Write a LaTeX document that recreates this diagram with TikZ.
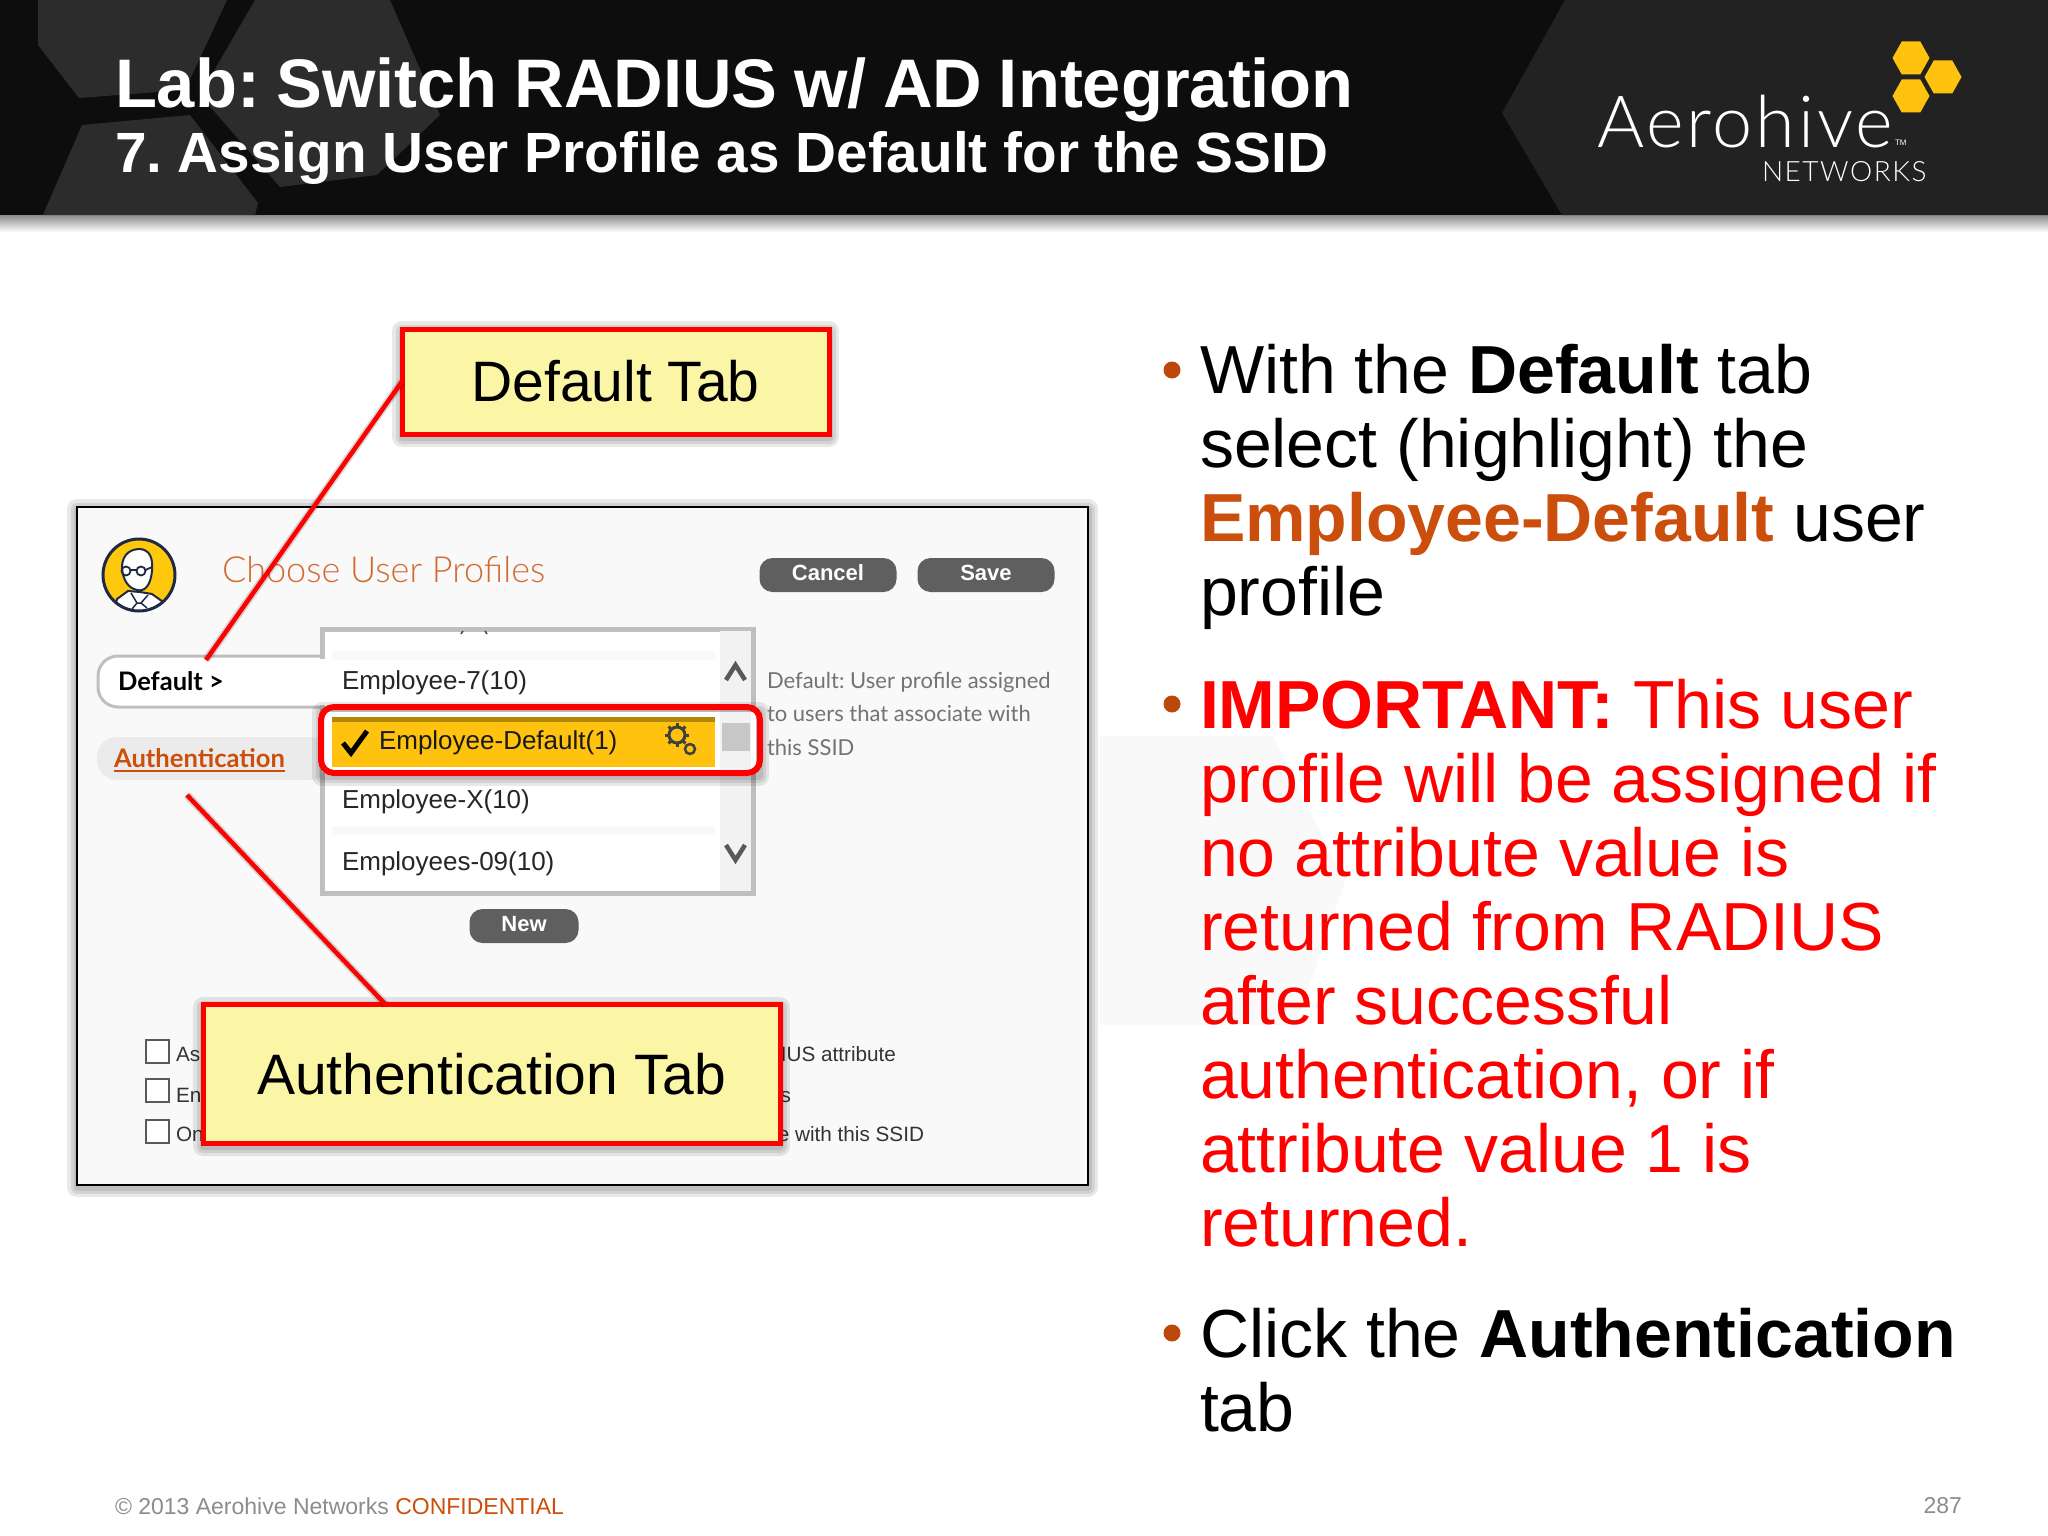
\documentclass[tikz,border=0pt]{standalone}
\usepackage{fontspec}
\setmainfont{Liberation Sans}
\newfontfamily\uifont{Lato}
\newfontfamily\logofont[LetterSpace=4]{Lato Light}
\newfontfamily\uilight{Lato Light}
\newfontfamily\logospaced[LetterSpace=5.5]{Lato Light}
\newcommand{\fs}[2]{\fontsize{#1}{#2}\selectfont}
\newcommand{\tight}{\spaceskip=.24em\relax}
\definecolor{hdark}{HTML}{0D0D0D}
\definecolor{hlight}{HTML}{222222}
\definecolor{hghost}{HTML}{2C2C2C}
\definecolor{honey}{HTML}{FFC20E}
\definecolor{rust}{HTML}{CC4E0C}
\definecolor{panelbg}{HTML}{F9F9F9}
\definecolor{note}{HTML}{FBF6A6}
\definecolor{btn}{HTML}{5F5F5F}
\definecolor{navy}{HTML}{1F2A44}
\tikzset{
  x=1pt,y=-1pt,
  every node/.style={inner sep=0pt,outer sep=0pt},
  txt/.style={anchor=base west},
  callout/.style={draw=red,line width=5pt,fill=note,text=black},
  leader/.style={draw=red,line width=4.5pt},
  pill/.style={draw=none,fill=btn,rounded corners=13pt,text=white,text height=16pt,text depth=6pt,font=\bfseries\fs{22}{24}},
  row/.style={txt,text=black!85,font=\fs{26}{28}},
  desc/.style={txt,text=black!55,font=\uifont\fs{22}{24}},
  chk/.style={draw=black!65,line width=1.5pt,fill=white},
  under/.style={txt,text=black!80,font=\fs{20.7}{24}},
  body/.style={anchor=north west,align=left,font=\fs{68}{74}},
  bul/.style={circle,fill=rust!92!black,minimum size=17pt},
  hex/.style={fill=honey}
}
\newcommand{\softrect}[4]{%
  \foreach \w in {20,13,7}{\draw[black,opacity=.09,line width=\w pt,line join=round] (#1,#2) rectangle (#3,#4);}}
\newcommand{\hexa}[2]{\fill[hex] (#1+18.5,#2)--(#1+9.25,#2+16.5)--(#1-9.25,#2+16.5)--(#1-18.5,#2)--(#1-9.25,#2-16.5)--(#1+9.25,#2-16.5)--cycle;}
\begin{document}
\begin{tikzpicture}
\frenchspacing
\useasboundingbox (0,0) rectangle (2048,1536);
\fill[white] (0,0) rectangle (2048,1536);
% header
\shade[top color=black!45,bottom color=white] (0,215) rectangle (2048,232);
\fill[hdark] (0,0) rectangle (2048,215);
\fill[hlight] (1565,0)--(1502,113)--(1562,215)--(2048,215)--(2048,0)--cycle;
\fill[hghost] (38,0)--(38,45)--(79,98)--(185,90)--(227,0)--cycle;
\fill[hghost] (255,0)--(390,0)--(440,115)--(377,175)--(280,187)--(200,95)--cycle;
\fill[hghost] (82,125)--(190,115)--(258,203)--(255,215)--(43,215)--cycle;
% titles
\node[txt,text=white,font=\bfseries\fs{68.7}{70}\tight] (t1) at (115,108) {Lab: Switch RADIUS w/ AD Integration};
\node[txt,text=white,font=\bfseries\fs{56.7}{60}] (t2) at (115,172) {7. Assign User Profile as Default for the SSID};
% logo
\hexa{1911}{58}\hexa{1943}{77}\hexa{1911}{96}
\node[txt,text=white,font=\logofont\fs{72}{72}] (l1) at (1597,147) {Aerohive};
\node[txt,text=white,font=\fs{8}{8}] (l2) at (1895,146) {TM};
\node[txt,text=white,font=\logospaced\fs{28}{28}] (l3) at (1762,181) {NETWORKS};
% panel
\fill[black!2.5] (1100,736)--(1273,736)--(1345,883)--(1295,1025)--(1100,1025)--cycle;
\softrect{77}{509}{1088}{1187}
\draw[black,line width=2pt,fill=panelbg] (77,507) rectangle (1088,1185);
% avatar
\fill[honey!90!yellow] (139,575) circle (36);
\begin{scope}
\clip (139,575) circle (36);
\fill[white,draw=navy,line width=2pt] (112,620)--(117,599)--(128,591)--(140,592)--(152,594)--(166,604)--(170,620)--cycle;
\fill[white,draw=navy,line width=2pt] (122,568) .. controls (122,552) and (133,549) .. (140,549) .. controls (150,550) and (153,558) .. (152,570) .. controls (151,585) and (145,592) .. (137,590) .. controls (128,588) and (123,580) .. (122,568) -- cycle;
\draw[navy,line width=1.8pt] (126,571) circle (4.5) (141,571) circle (4.5) (130.5,570)--(136.5,570) (145.5,570)--(152,567);
\draw[navy,line width=1.5pt] (131,593)--(137,603)--(132,609) (148,595)--(141,603)--(147,608) (137,603)--(141,603);
\end{scope}
\draw[navy,line width=3pt] (139,575) circle (36);
\node[txt,text=rust!85,font=\uilight\fs{36}{38}] (title) at (222,582) {Choose User Profiles};
\node[pill,minimum width=137pt,minimum height=34pt] (cancel) at (828,575) {Cancel};
\node[pill,minimum width=137pt,minimum height=34pt] (save) at (986,575) {Save};
% tabs
\draw[black!25,line width=3pt,fill=white,rounded corners=20pt] (340,656)--(98,656)--(98,707)--(340,707);
\node[txt,font=\uifont\bfseries\fs{25.5}{26}] (deftab) at (118,690) {Default >};
\fill[black!8,rounded corners=20pt] (330,737)--(97,737)--(97,780)--(330,780)--cycle;
\node[txt,text=rust,font=\uifont\bfseries\fs{25.6}{26}] (authtab) at (114,767) {Authentication};
\draw[rust,line width=1.5pt] (authtab.base west)++(0,4) -- ++(171,0);
% list
\draw[black!25,line width=5pt,fill=white] (322,629) rectangle (753,893);
\fill[white] (319,658.5) rectangle (326,704.5);
\fill[black!5] (720,631) rectangle (751,891);
\fill[panelbg] (332,651) rectangle (715,660);
\fill[panelbg] (332,708) rectangle (715,716);
\fill[panelbg] (332,826) rectangle (715,835);
\draw[black!75,line width=1.5pt] (461,634)--(463,631) (485,631)--(487,634);
\node[row] (r1) at (342,689) {Employee-7(10)};
\node[row] (r3) at (342,808) {Employee-X(10)};
\node[row] (r4) at (342,870) {Employees-09(10)};
\draw[black!65,line width=4.5pt] (726,680)--(735.5,665)--(745,680);
\draw[black!65,line width=4.5pt] (726,845)--(735.5,860)--(745,845);
% highlight
\softrect{322}{712}{759}{776}
\fill[white] (322,712) rectangle (756,772);
\fill[black!5] (720,712) rectangle (751,772);
\fill[honey] (332,717) rectangle (715,767);
\fill[honey!70!black] (332,717) rectangle (715,722);
\fill[black!22] (722,723) rectangle (750,751);
\draw[black,line width=5pt] (343,743)--(351,753)--(367,731);
\node[row,text=black!90] (r2) at (379,749) {Employee-Default(1)};
\draw[black!75,line width=3pt] (677,735) circle (8);
\draw[black!75,line width=2.5pt] (690,749) circle (5);
\foreach \a in {0,45,...,315}{\draw[black!75,line width=3pt] (677,735)++(\a:8)--++(\a:4);}
\draw[red,line width=6pt,rounded corners=13pt] (321,707) rectangle (760,773);
\node[desc] (d1) at (767,688) {Default: User profile assigned};
\node[desc] (d2) at (767,721) {to users that associate with};
\node[desc] (d3) at (767,755) {this SSID};
\node[pill,minimum width=109pt,minimum height=34pt] (new) at (524,926) {New};
% checkboxes
\node[chk,minimum size=23pt,anchor=north west] (c1) at (146,1040) {};
\node[chk,minimum size=23pt,anchor=north west] (c2) at (146,1079) {};
\node[chk,minimum size=23pt,anchor=north west] (c3) at (146,1120) {};
\node[under] (u1) at (176,1061) {As};
\node[under] (u2) at (176,1102) {En};
\node[under] (u3) at (176,1141) {On};
\node[under,anchor=base east] (u4) at (896,1061) {IUS attribute};
\node[under,anchor=base east] (u5) at (791,1102) {s};
\node[under,anchor=base east] (u6) at (924,1141) {e with this SSID};
% callouts
\softrect{402}{331}{829}{437}
\softrect{203}{1007}{780}{1146}
\node[callout,font=\fs{57}{60},minimum width=427pt,minimum height=105pt] (dtab) at (615.5,381.5) {Default Tab};
\node[callout,font=\fs{57}{60},minimum width=577pt,minimum height=139pt] (atab) at (491.5,1074) {Authentication Tab};
\coordinate (dend) at (206,660);
\coordinate (aend) at (187,795);
\draw[black,opacity=.15,line width=8pt] (dtab.west)--(dend);
\draw[black,opacity=.15,line width=8pt] ([xshift=-106pt]atab.north)--(aend);
\draw[leader] (dtab.west)--(dend);
\draw[leader] ([xshift=-106pt]atab.north)--(aend);
% body
\node[bul] (b1) at (1172,370) {};
\node[bul] (b2) at (1172,704) {};
\node[bul] (b3) at (1172,1333) {};
\node[body] (p1) at (1200,344) {With the \textbf{Default} tab\\select (highlight) the\\\textbf{\textcolor{rust}{Employee-Default}} user\\profile};
\node[body,text=red] (p2) at (1200,679) {\textbf{IMPORTANT:} This user\\profile will be assigned if\\no attribute value is\\returned from RADIUS\\after successful\\authentication, or if\\attribute value 1 is\\returned.};
\node[body] (p3) at (1200,1308) {Click the \textbf{Authentication}\\tab};
% footer
\node[txt,text=black!45,font=\fs{23}{26}] (f1) at (115,1514) {© 2013 Aerohive Networks \textcolor{rust}{CONFIDENTIAL}};
\node[txt,anchor=base east,text=black!45,font=\fs{23}{26}] (f2) at (1962,1513) {287};
\end{tikzpicture}
\end{document}
